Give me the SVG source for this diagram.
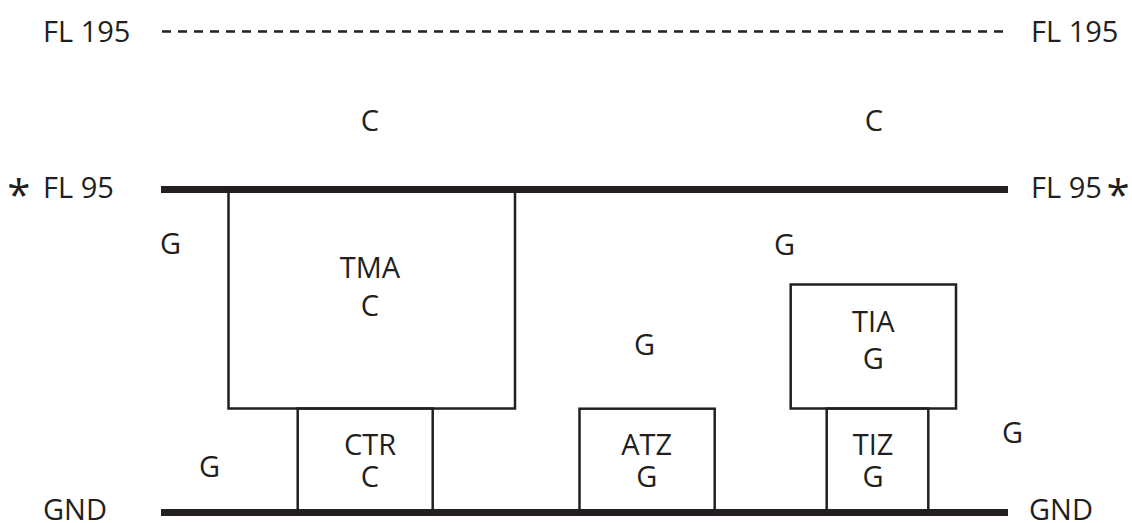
<svg xmlns="http://www.w3.org/2000/svg" width="1132" height="523" viewBox="0 0 1132 523">
  <style>
    .t { font-family: "Open Sans", "Noto Sans", sans-serif; font-size: 29px; fill: #231f20; }
    .m { text-anchor: middle; }
    .ast { font-family: "Open Sans", "Noto Sans", sans-serif; font-size: 42px; fill: #231f20; text-anchor: middle; }
    .box { fill: none; stroke: #231f20; stroke-width: 2.5; }
    .level { stroke: #231f20; stroke-width: 7; fill: none; }
    .dash { stroke: #231f20; stroke-width: 2.5; stroke-dasharray: 9 7; fill: none; }
  </style>
  <rect width="1132" height="523" fill="#ffffff"/>

  <g id="levels">
    <line id="fl195" class="dash" x1="162" y1="31.5" x2="1007" y2="31.5"/>
    <line id="fl95" class="level" x1="161" y1="189.5" x2="1008" y2="189.5"/>
    <line id="gnd" class="level" x1="161" y1="512.5" x2="1008" y2="512.5"/>
  </g>

  <g id="level-labels">
    <text class="t" x="43" y="42">FL 195</text>
    <text class="t" x="1031" y="42">FL 195</text>
    <text class="ast" x="18.7" y="210">*</text>
    <text class="t" x="43" y="198">FL 95</text>
    <text class="t" x="1031" y="198">FL 95</text>
    <text class="ast" x="1118" y="210">*</text>
    <text class="t" x="43" y="520">GND</text>
    <text class="t" x="1029" y="520">GND</text>
  </g>

  <g id="airspace-labels">
    <text class="t m" x="370" y="131">C</text>
    <text class="t m" x="874" y="131">C</text>
    <text class="t m" x="170.5" y="254">G</text>
    <text class="t m" x="784.5" y="255">G</text>
    <text class="t m" x="644.5" y="355">G</text>
    <text class="t m" x="209.5" y="477">G</text>
    <text class="t m" x="1012.5" y="443">G</text>
  </g>

  <g id="tma">
    <rect class="box" x="228.5" y="189" width="286.5" height="219.5"/>
    <text class="t m" x="370" y="278">TMA</text>
    <text class="t m" x="370" y="316">C</text>
  </g>

  <g id="ctr">
    <rect class="box" x="297.7" y="408.5" width="135" height="104"/>
    <text class="t m" x="370" y="455">CTR</text>
    <text class="t m" x="370" y="487">C</text>
  </g>

  <g id="atz">
    <rect class="box" x="579.5" y="408.7" width="135.2" height="104"/>
    <text class="t m" x="646.7" y="454.5">ATZ</text>
    <text class="t m" x="646.7" y="487">G</text>
  </g>

  <g id="tia">
    <rect class="box" x="790.7" y="284.5" width="165.3" height="124"/>
    <text class="t m" x="873.3" y="332">TIA</text>
    <text class="t m" x="873.3" y="368.5">G</text>
  </g>

  <g id="tiz">
    <rect class="box" x="826.7" y="408.5" width="101.6" height="104"/>
    <text class="t m" x="873" y="454.5">TIZ</text>
    <text class="t m" x="873" y="487">G</text>
  </g>
</svg>
